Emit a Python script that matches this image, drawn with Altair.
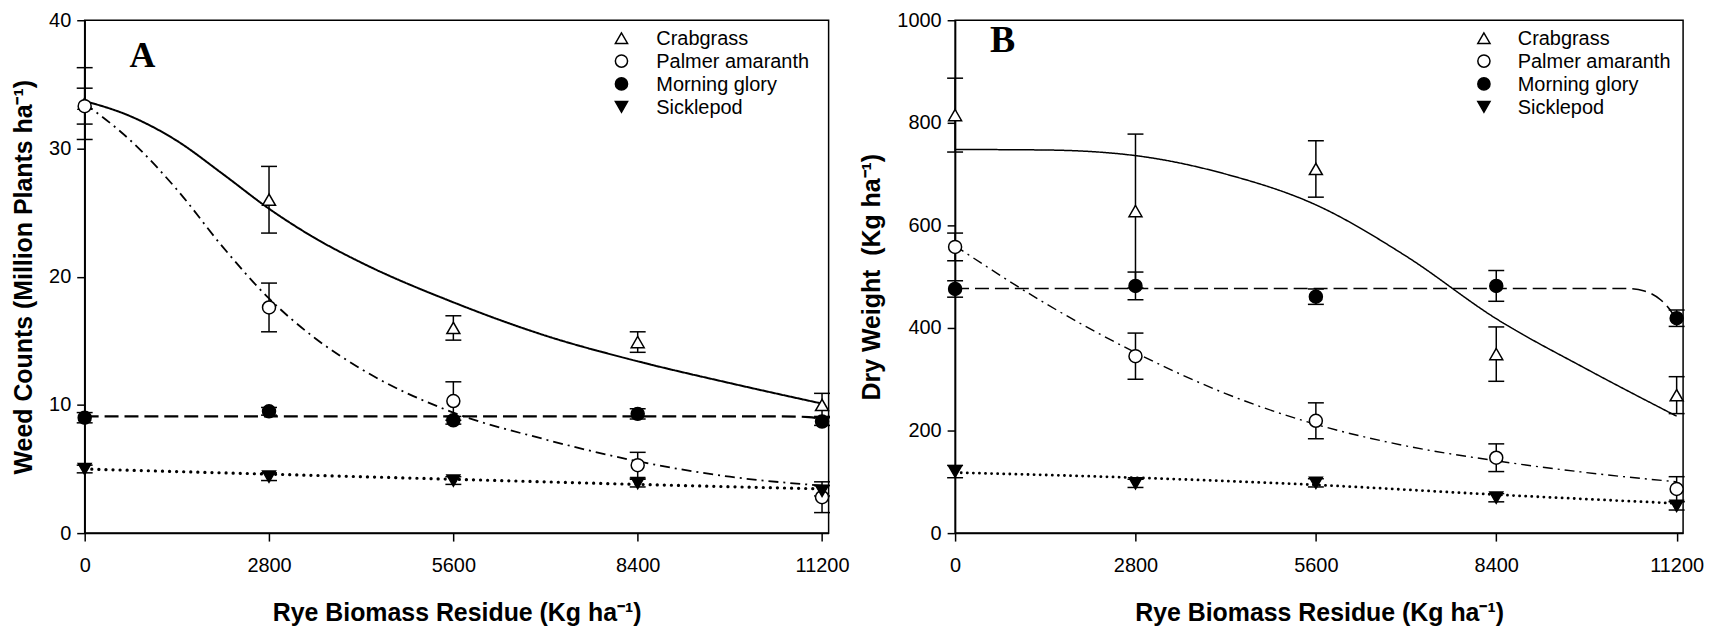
import altair as alt
import pandas as pd

# ---------------- data ----------------
x_levels = [0, 2800, 5600, 8400, 11200]
species = ["Crabgrass", "Palmer amaranth", "Morning glory", "Sicklepod"]

# Panel A : weed counts (million plants / ha)
a_crab_mean = [33.5, 26.0, 16.0, 14.9, 10.0]
a_crab_se = [2.8, 2.6, 0.95, 0.8, 0.9]
a_palmer_mean = [33.3, 17.6, 10.3, 5.3, 2.8]
a_palmer_se = [1.4, 1.9, 1.5, 1.0, 1.2]
a_morning_mean = [9.0, 9.5, 8.8, 9.3, 8.7]
a_morning_se = [0.4, 0.3, 0.3, 0.4, 0.3]
a_sickle_mean = [5.0, 4.4, 4.1, 3.9, 3.3]
a_sickle_se = [0.3, 0.3, 0.3, 0.3, 0.4]

# Panel A fitted curves
a_crab_curve_x = [0, 700, 1400, 2100, 2800, 3500, 4200, 5600, 7000, 8400, 9800, 11200]
a_crab_curve_y = [33.7, 32.5, 30.6, 28.0, 25.3, 23.0, 21.1, 18.0, 15.4, 13.4, 11.7, 10.1]
a_palmer_curve_x = [0, 700, 1400, 2100, 2800, 3500, 4200, 5600, 7000, 8400, 9800, 11200]
a_palmer_curve_y = [33.5, 30.6, 26.8, 22.3, 18.3, 15.2, 12.8, 9.4, 7.3, 5.6, 4.4, 3.7]
a_morning_curve_x = [0, 10600, 11000, 11200]
a_morning_curve_y = [9.1, 9.1, 9.05, 8.9]
a_sickle_curve_x = [0, 2800, 5600, 8400, 11200]
a_sickle_curve_y = [5.0, 4.6, 4.2, 3.8, 3.45]

# Panel B : dry weight (kg / ha)
b_crab_mean = [815, 628, 710, 349, 269]
b_crab_se = [72, 150, 55, 53, 36]
b_palmer_mean = [558, 345, 219, 147, 86]
b_palmer_se = [27, 45, 35, 27, 24]
b_morning_mean = [476, 482, 461, 482, 419]
b_morning_se = [16, 27, 15, 30, 16]
b_sickle_mean = [120, 97, 98, 69, 53]
b_sickle_se = [12, 8, 8, 8, 8]

# Panel B fitted curves
b_crab_curve_x = [0, 1400, 2800, 4200, 5600, 7000, 8400, 9800, 11200]
b_crab_curve_y = [748, 747, 736, 700, 640, 540, 418, 320, 228]
b_palmer_curve_x = [0, 1400, 2800, 4200, 5600, 7000, 8400, 9800, 11200]
b_palmer_curve_y = [560, 448, 352, 272, 212, 170, 141, 118, 100]
b_morning_curve_x = [0, 10400, 10700, 10950, 11100, 11200]
b_morning_curve_y = [477, 477, 472, 455, 435, 415]
b_sickle_curve_x = [0, 2800, 5600, 8400, 11200]
b_sickle_curve_y = [118, 108, 94, 75, 58]

y_ticks_a = [0, 10, 20, 30, 40]
y_ticks_b = [0, 200, 400, 600, 800, 1000]
panel_letters = ["A", "B"]


def points_frame(means, ses):
    rows = []
    for sp, m, s in zip(species, means, ses):
        for x, mv, sv in zip(x_levels, m, s):
            rows.append({"species": sp, "x": x, "mean": mv, "lo": mv - sv, "hi": mv + sv})
    return pd.DataFrame(rows)


def curve_frame(xs, ys):
    rows = []
    for sp, cx, cy in zip(species, xs, ys):
        for x, y in zip(cx, cy):
            rows.append({"species": sp, "x": x, "y": y})
    return pd.DataFrame(rows)


pts_a = points_frame([a_crab_mean, a_palmer_mean, a_morning_mean, a_sickle_mean],
                     [a_crab_se, a_palmer_se, a_morning_se, a_sickle_se])
pts_b = points_frame([b_crab_mean, b_palmer_mean, b_morning_mean, b_sickle_mean],
                     [b_crab_se, b_palmer_se, b_morning_se, b_sickle_se])
crv_a = curve_frame([a_crab_curve_x, a_palmer_curve_x, a_morning_curve_x, a_sickle_curve_x],
                    [a_crab_curve_y, a_palmer_curve_y, a_morning_curve_y, a_sickle_curve_y])
crv_b = curve_frame([b_crab_curve_x, b_palmer_curve_x, b_morning_curve_x, b_sickle_curve_x],
                    [b_crab_curve_y, b_palmer_curve_y, b_morning_curve_y, b_sickle_curve_y])
legend_df = pd.DataFrame({"species": species})

FONT = "Liberation Sans, Arial, sans-serif"
SERIF = "Liberation Serif, Times New Roman, serif"
XTITLE = "Rye Biomass Residue (Kg ha\u207b\u00b9)"

shape_scale = alt.Scale(domain=species, range=["triangle-up", "circle", "circle", "triangle-down"])
fill_scale = alt.Scale(domain=species, range=["white", "white", "black", "black"])

PLOT_H = 515


def panel(pts, crv, ymax, yticks, ytitle, letter, letter_size, letter_x, letter_y,
          leg_sym_x, leg_txt_x, width, styles):
    xs = alt.Scale(domain=[0, 11300], nice=False, zero=False)
    ys = alt.Scale(domain=[0, ymax], nice=False)
    xax = alt.Axis(values=x_levels, title=XTITLE, labelFlush=False, format="d")
    yax = alt.Axis(values=yticks, title=ytitle, format="d")

    layers = []
    for sp, (w, dash, cap) in zip(species, styles):
        layers.append(
            alt.Chart(crv).transform_filter(alt.datum.species == sp).mark_line(
                interpolate="monotone", color="black", strokeWidth=w, strokeDash=dash,
                strokeCap=cap).encode(
                x=alt.X("x:Q", scale=xs, axis=xax),
                y=alt.Y("y:Q", scale=ys, axis=yax))
        )

    bars = alt.Chart(pts).mark_rule(color="black", strokeWidth=1.5).encode(
        x="x:Q", y="lo:Q", y2="hi:Q")

    caps = alt.Chart(pts).transform_fold(["lo", "hi"], as_=["end", "val"]).mark_tick(
        orient="horizontal", color="black", size=16, thickness=1.5, opacity=1).encode(
        x="x:Q", y="val:Q")

    points = alt.Chart(pts).mark_point(size=170, stroke="black", strokeWidth=1.5,
                                       opacity=1, fillOpacity=1).encode(
        x="x:Q", y="mean:Q",
        shape=alt.Shape("species:N", legend=None, scale=shape_scale),
        fill=alt.Fill("species:N", legend=None, scale=fill_scale),
    )

    letter_mark = alt.Chart(pd.DataFrame({"letter": [letter]})).mark_text(
        font=SERIF, fontSize=letter_size, fontWeight="bold", color="black",
        align="left", baseline="alphabetic").encode(
        text="letter:N", x=alt.value(letter_x), y=alt.value(letter_y))

    main = alt.layer(*layers, bars, caps, points, letter_mark)

    leg_y = alt.Y("species:N", axis=None,
                  scale=alt.Scale(type="point", domain=species, range=[18, 87], padding=0))
    leg_pts = alt.Chart(legend_df).mark_point(size=150, stroke="black", strokeWidth=1.5,
                                              opacity=1, fillOpacity=1).encode(
        y=leg_y, x=alt.value(leg_sym_x),
        shape=alt.Shape("species:N", legend=None, scale=shape_scale),
        fill=alt.Fill("species:N", legend=None, scale=fill_scale))
    leg_txt = alt.Chart(legend_df).mark_text(font=FONT, fontSize=20, color="black",
                                             align="left", baseline="middle", dy=1).encode(
        y=leg_y, x=alt.value(leg_txt_x), text="species:N")
    legend = alt.layer(leg_pts, leg_txt)

    return alt.layer(main, legend).resolve_scale(y="independent").properties(
        width=width, height=PLOT_H)


styles_a = [(2.0, [1, 0], "butt"), (1.8, [10, 5, 2, 5], "butt"),
            (2.2, [14, 6], "butt"), (3.2, [0.1, 7], "round")]
styles_b = [(1.5, [1, 0], "butt"), (1.4, [10, 5, 2, 5], "butt"),
            (1.6, [14, 6], "butt"), (2.8, [0.1, 6], "round")]

pa = panel(pts_a, crv_a, 40, y_ticks_a, "Weed Counts (Million Plants ha\u207b\u00b9)",
           panel_letters[0], 36, 45, 47, 539, 574, 747, styles_a)
pb = panel(pts_b, crv_b, 1000, y_ticks_b, "Dry Weight\u00a0 (Kg ha\u207b\u00b9)",
           panel_letters[1], 38, 35, 32, 531, 565, 731, styles_b)

chart = alt.hconcat(pa, pb, spacing=8).configure_view(
    stroke="black", strokeWidth=1.5).configure_axis(
    labelFont=FONT, labelFontSize=20, labelColor="black", labelPadding=6,
    titleFont=FONT, titleFontSize=25, titleFontWeight="bold", titleColor="black",
    tickSize=8, tickColor="black", tickWidth=1.5, domainColor="black", domainWidth=1.5,
    grid=False).configure_axisX(labelPadding=15, titlePadding=25).configure_axisY(
    titlePadding=12).properties(padding={"top": 0, "left": 3, "right": 0, "bottom": 0},
                                background="white")

chart.save("out.html", embed_options={"renderer": "svg", "actions": False})
